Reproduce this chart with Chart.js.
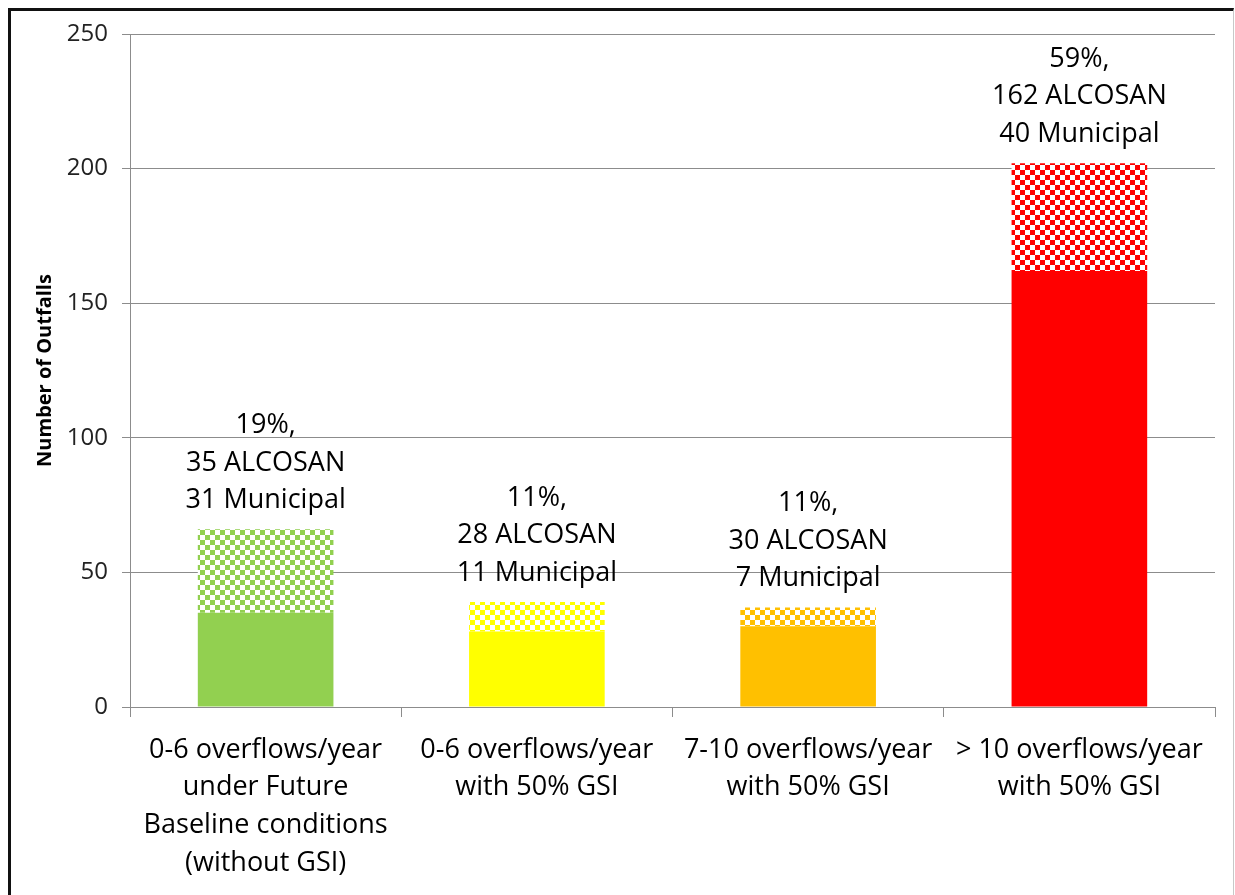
<!DOCTYPE html>
<html>
<head>
<meta charset="utf-8">
<script src="https://cdn.jsdelivr.net/npm/chart.js@4"></script>
<style>
  body{margin:0;background:#fff;}
  #frame{position:absolute;left:8px;top:8px;width:1222px;height:900px;border-left:3px solid #111;border-top:3px solid #111;border-right:1px solid #c8c8c8;}
  #c{position:absolute;left:0;top:0;}
</style>
</head>
<body>
<div id="frame"></div>
<canvas id="c" width="1235" height="895"></canvas>
<script>
var categories=[
  ['0-6 overflows/year','under Future','Baseline conditions','(without GSI)'],
  ['0-6 overflows/year','with 50% GSI'],
  ['7-10 overflows/year','with 50% GSI'],
  ['> 10 overflows/year','with 50% GSI']
];
var alcosan=[35,28,30,162];
var municipal=[31,11,7,40];
var percents=['19%,','11%,','11%,','59%,'];
var colors=['#92D050','#FFFF00','#FFC000','#FF0000'];
var yTicks=[0,50,100,150,200,250];

function checker(col){
  var p=document.createElement('canvas');
  p.width=10;p.height=10;
  var g=p.getContext('2d');
  g.fillStyle='#fff';g.fillRect(0,0,10,10);
  g.fillStyle=col;
  g.fillRect(0,0,5,5);g.fillRect(5,5,5,5);
  return document.getElementById('c').getContext('2d').createPattern(p,'repeat');
}

var labelPlugin={
  id:'barLabels',
  afterDatasetsDraw:function(chart){
    var ctx=chart.ctx;
    var meta=chart.getDatasetMeta(1);
    ctx.save();
    ctx.font='27px "Open Sans"';
    ctx.fillStyle='#000';
    ctx.textAlign='center';
    ctx.textBaseline='middle';
    meta.data.forEach(function(bar,i){
      var lines=[percents[i],alcosan[i]+' ALCOSAN',municipal[i]+' Municipal'];
      var y=bar.y-29;
      for(var k=lines.length-1;k>=0;k--){
        ctx.fillText(lines[k],bar.x,y);
        y-=37.5;
      }
    });
    ctx.restore();
  }
};

new Chart('c',{
  type:'bar',
  data:{
    labels:categories,
    datasets:[{
      label:'ALCOSAN',
      data:alcosan,
      backgroundColor:colors
    },{
      label:'Municipal',
      data:municipal,
      backgroundColor:colors.map(checker)
    }]
  },
  options:{
    responsive:false,
    animation:false,
    categoryPercentage:1,
    barPercentage:0.5,
    layout:{padding:{left:0,top:34,right:20,bottom:0}},
    plugins:{legend:{display:false},tooltip:{enabled:false}},
    scales:{
      x:{
        stacked:true,
        grid:{drawOnChartArea:false,color:'#8c8c8c',tickLength:10,offset:true},
        border:{color:'#8c8c8c'},
        ticks:{color:'#000',padding:14,maxRotation:0,autoSkip:false,
          font:{family:'Open Sans',size:27,lineHeight:1.4}},
        afterFit:function(s){s.height=188;}
      },
      y:{
        stacked:true,
        min:0,max:250,
        afterBuildTicks:function(s){s.ticks=yTicks.map(function(v){return {value:v};});},
        grid:{color:'#8c8c8c',tickLength:8},
        border:{color:'#8c8c8c'},
        ticks:{color:'#222',padding:14,font:{family:'Open Sans',size:24}},
        title:{display:true,text:'Number of Outfalls',color:'#000',
          font:{family:'Open Sans',size:20,weight:'bold'},padding:{top:33}},
        afterFit:function(s){s.width=130;}
      }
    }
  },
  plugins:[labelPlugin]
});
</script>
</body>
</html>
